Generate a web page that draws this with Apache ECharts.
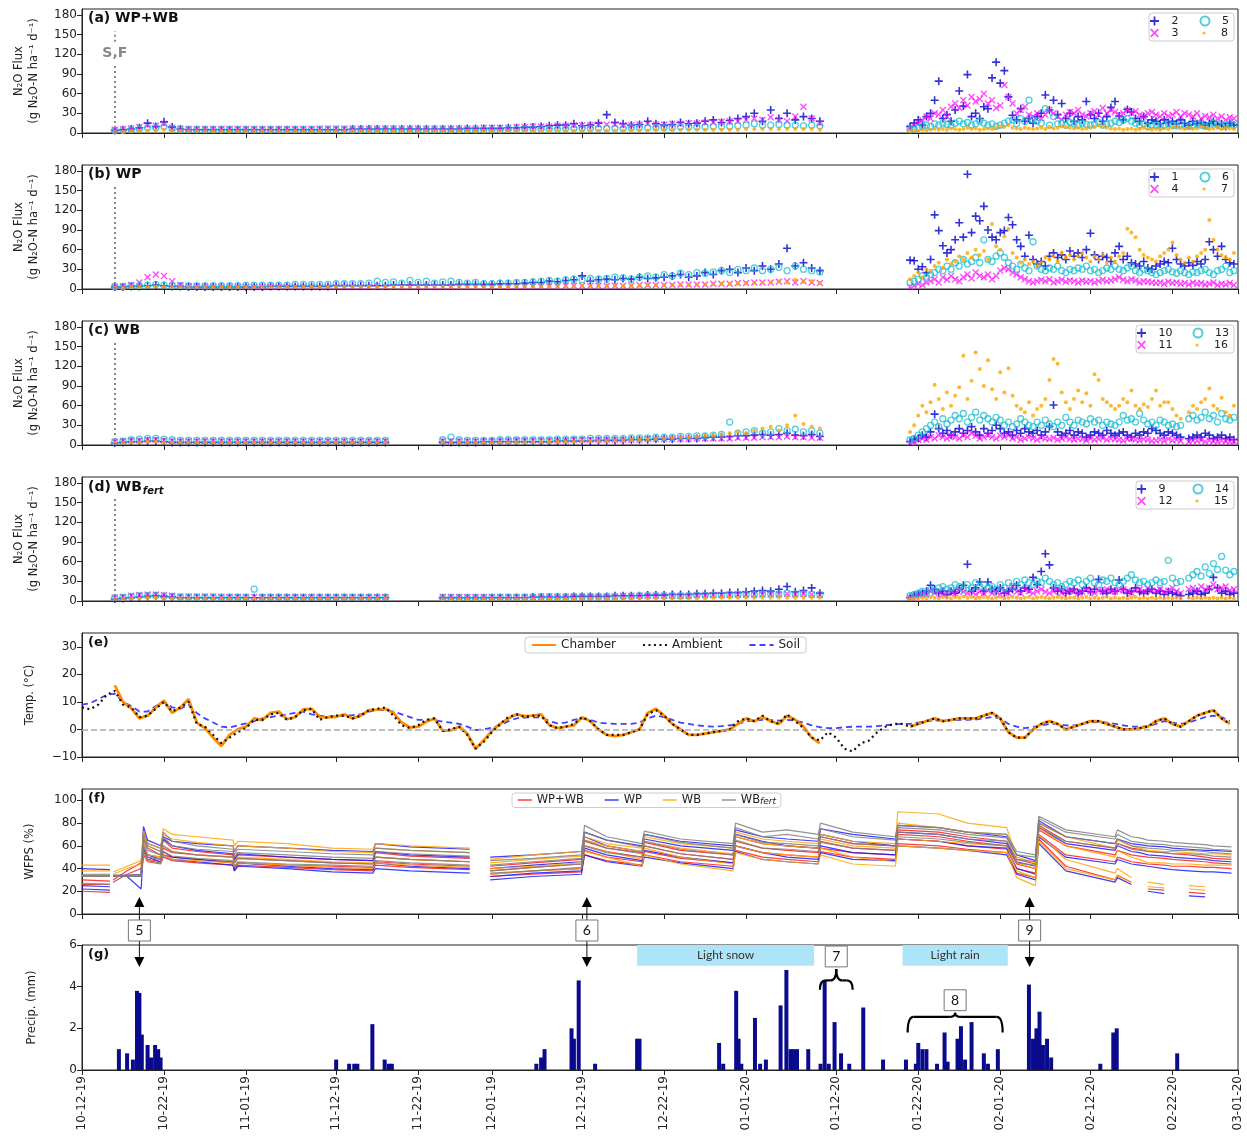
<!DOCTYPE html>
<html><head><meta charset="utf-8">
<script src="https://cdn.jsdelivr.net/npm/echarts@6/dist/echarts.min.js"></script>
<style>html,body{margin:0;padding:0;background:#fff;}#c{width:1247px;height:1139px;}</style>
</head><body><div id="c"></div>
<script>
// ---------------- DATA ----------------
const xTickDates = ['2019-10-12','2019-10-22','2019-11-01','2019-11-12','2019-11-22','2019-12-01','2019-12-12','2019-12-22','2020-01-01','2020-01-12','2020-01-22','2020-02-01','2020-02-12','2020-02-22','2020-03-01'];
const xStart = '2019-10-12', xEnd = '2020-03-01';
const fluxTicks = [0,30,60,90,120,150,180];
const tempTicks = [-10,0,10,20,30];
const wfpsTicks = [0,20,40,60,80,100];
const precipTicks = [0,2,4,6];
const sfDate = '2019-10-16';

// flux: early = daily from fluxEarlyStart, late = every 12 h from fluxLateStart
const fluxEarlyStart = '2019-10-16';
const fluxLateStart = '2020-01-21';

// (a) WP+WB
const ch2Early = [4,5,6,8,15,10,17,9,6,5, 5,5,5,5,5,5,5,5,5,5, 5,5,5,5,5,5,5,5,5,6, 6,6,6,6,6,6,6,6,6,6, 6,6,6,7,7,7,7,7,8,8, 9,9,10,11,12,12,14,11,12,15, 28,16,14,12,13,18,14,12,13,16, 14,15,18,20,16,19,22,25,30,18, 35,22,30,20,25,22,18];
const ch2Late = [10,15,20,12,25,30,50,79,22,28, 18,35,64,41,89,25,30,22,40,37, 84,108,76,95,55,27,20,37,18,22, 15,25,30,58,35,50,28,45,22,30, 18,25,20,48,28,22,30,18,25,39, 48,26,20,36,32,22,18,25,15,20, 18,14,20,16,18,14,20,15,12,18, 14,16,12,15,18,12,14,10,15,12];
const ch3Early = [5,6,7,9,12,11,14,8,7,6, 6,6,6,6,6,6,6,6,6,6, 6,6,6,6,6,7,7,7,7,7, 7,7,7,7,7,7,7,7,7,7, 7,7,7,7,7,8,8,8,8,9, 9,10,10,10,11,11,12,12,12,13, 13,13,12,12,13,14,13,13,14,14, 15,15,16,16,17,18,18,20,22,20, 24,20,18,25,40,22,15];
const ch3Late = [8,12,15,20,25,22,30,28,35,25, 40,45,38,50,42,55,48,52,60,45, 50,38,42,73,55,45,30,35,40,28, 25,30,22,28,35,30,25,20,28,32, 30,35,28,25,30,33,28,38,30,35, 32,28,30,35,30,33,28,25,30,32, 28,25,30,26,28,32,25,30,28,25, 30,22,26,24,28,22,25,20,24,22];
const ch5Early = [4,4,5,6,8,8,10,7,5,5, 5,5,5,5,5,5,5,5,5,5, 5,5,5,5,5,5,5,5,5,5, 5,5,5,5,5,5,5,5,5,5, 5,5,5,5,5,5,5,5,6,6, 6,6,6,6,6,7,7,7,7,7, 7,7,7,8,8,8,8,8,8,9, 9,9,9,10,10,10,11,12,14,12, 12,13,12,12,11,12,11];
const ch5Late = [5,6,8,10,12,10,14,12,15,13, 12,15,18,14,16,12,14,18,15,12, 14,10,12,15,18,20,14,22,18,50, 20,18,15,37,12,25,14,15,12,16, 14,12,15,13,12,14,16,12,14,15, 18,16,20,22,18,15,12,14,10,12, 12,10,12,14,12,11,13,12,10,12, 14,12,10,12,15,13,10,12,14,12];
const ch8Early = [2,2,3,3,4,4,5,3,3,3, 3,3,3,3,3,3,3,3,3,3, 3,3,3,3,3,3,3,3,3,3, 3,3,3,3,3,3,3,3,3,3, 3,3,3,3,3,3,3,3,3,3, 3,3,3,3,4,4,4,4,4,4, 4,4,4,4,4,4,5,5,5,5, 5,5,5,5,5,5,5,6,6,6, 6,6,6,6,6,6,5];
const ch8Late = [3,4,3,5,4,5,6,5,6,5, 7,6,5,6,8,6,7,5,6,7, 6,8,10,9,12,8,7,6,8,7, 6,7,8,6,9,7,8,10,9,8, 7,8,6,7,8,9,12,10,8,7, 6,7,5,6,7,5,6,8,6,5, 6,5,7,6,8,10,7,6,8,6, 7,10,8,6,7,9,6,8,7,6];

// (b) WP
const ch1Early = [3,3,4,4,5,6,5,4,4,3, 3,3,3,3,3,3,3,3,3,4, 4,4,4,4,4,4,4,5,5,5, 5,5,5,5,6,6,6,6,6,6, 6,6,7,7,7,7,7,8,8,8, 9,10,10,12,11,13,14,20,12,14, 15,14,16,15,18,16,17,18,20,22, 18,20,25,22,28,30,25,32,28,35, 30,38,62,35,40,32,28];
const ch1Late = [44,43,30,34,25,45,113,89,66,55, 60,75,101,79,175,86,111,104,126,90, 79,75,86,89,109,98,75,65,50,82, 45,38,42,35,50,55,48,52,45,58, 50,55,48,60,85,52,45,50,48,42, 55,65,45,50,40,38,35,42,32,30, 35,38,42,40,62,45,38,35,40,36, 42,38,45,72,60,50,65,45,40,38];
const ch4Early = [3,4,6,10,18,22,20,12,6,4, 4,3,3,3,3,3,3,3,3,3, 3,3,3,3,3,3,3,3,3,3, 3,3,3,3,3,3,3,3,3,3, 3,3,3,3,3,3,4,4,4,4, 4,4,4,4,4,5,5,5,5,5, 5,5,5,5,6,6,6,6,6,7, 7,7,7,8,8,8,9,9,10,10, 10,11,12,10,12,10,9];
const ch4Late = [3,5,8,6,10,12,15,10,18,14, 20,15,12,18,22,16,25,20,18,22, 15,20,28,32,30,25,22,18,15,12, 10,12,14,12,15,10,12,14,11,13, 12,10,13,11,12,10,12,14,12,13, 15,18,14,12,15,13,10,12,11,10, 9,10,8,11,9,10,8,9,7,10, 8,9,7,8,10,6,8,7,9,6];
const ch6Early = [4,4,5,5,6,7,6,5,5,5, 5,5,5,5,5,5,6,6,6,6, 6,6,7,7,7,7,7,8,8,8, 8,9,12,10,11,9,13,10,12,9, 11,12,10,9,10,8,8,9,9,10, 10,11,12,13,12,14,15,14,16,15, 16,18,17,15,18,20,18,22,20,24, 22,25,24,26,28,25,30,28,32,28, 30,33,28,35,30,28,26];
const ch6Late = [10,12,15,20,18,22,25,30,28,35, 30,40,35,45,38,42,48,40,75,45, 42,50,55,48,40,35,30,38,32,28, 72,35,30,28,32,30,35,28,25,30, 28,32,30,35,28,30,25,28,32,30, 35,30,28,32,35,28,25,30,28,25, 22,25,28,30,26,24,28,25,22,26, 25,28,30,25,22,28,30,35,25,28];
const ch7Early = [2,2,3,3,4,4,4,3,3,3, 3,3,3,3,3,3,3,3,3,3, 3,3,3,3,3,3,3,3,3,3, 3,3,3,3,3,3,3,3,3,3, 3,3,3,3,3,3,3,3,3,4, 4,4,4,4,4,4,4,5,5,5, 5,5,5,5,5,6,6,6,6,6, 6,7,7,7,8,8,8,9,9,10, 10,12,10,14,11,12,9];
const ch7Late = [15,20,25,18,30,28,35,40,32,45, 38,42,50,45,55,48,60,52,58,45, 99,65,60,80,92,55,48,40,45,38, 42,35,40,48,45,50,42,55,48,52, 45,50,55,48,42,50,45,52,40,48, 42,50,55,92,86,79,60,52,48,45, 42,50,55,60,71,52,45,40,48,42, 50,55,60,105,75,60,52,48,45,55];

// (c) WB
const ch10Early = [3,4,5,5,6,6,5,4,4,4, 4,4,4,4,4,4,4,4,4,4, 4,4,4,4,4,4,4,4,4,4, 4,4,4,4,null,null,null,null,null,null, 4,4,4,4,4,5,5,5,5,5, 5,5,5,5,6,6,6,6,6,7, 7,7,7,8,8,8,9,9,9,10, 10,10,11,12,12,13,14,14,15,16, 15,16,18,15,14,16,13];
const ch10Late = [5,8,10,15,12,20,47,25,18,22, 15,20,25,18,22,28,20,15,25,18, 22,30,25,18,20,15,22,18,25,20, 18,22,15,20,28,61,20,15,18,22, 15,20,18,12,15,20,18,15,22,18, 15,18,20,15,12,18,15,20,18,25, 22,18,15,20,18,15,12,null,10,12, 15,12,18,15,10,12,15,10,12,8];
const ch11Early = [5,6,7,7,8,8,7,6,6,6, 6,6,6,6,6,6,6,6,6,6, 6,6,6,6,6,6,6,6,6,6, 6,6,6,6,null,null,null,null,null,null, 6,6,6,6,6,6,6,6,6,7, 7,7,7,7,7,7,8,8,8,8, 8,8,8,8,8,9,9,9,9,9, 9,10,10,10,10,10,11,11,11,12, 12,12,13,12,12,11,11];
const ch11Late = [3,5,8,10,8,12,10,15,12,10, 14,12,10,15,12,18,14,10,12,15, 12,10,14,12,15,10,12,8,10,12, 10,8,12,10,9,11,8,10,12,9, 8,10,9,7,10,8,9,11,8,10, 9,8,7,9,10,8,7,9,8,6, 7,8,6,9,7,8,6,null,5,7, 6,8,5,7,6,5,7,6,5,6];
const ch13Early = [5,6,8,9,10,10,9,8,7,7, 7,7,7,7,7,7,7,7,7,7, 7,7,7,7,7,7,7,7,7,7, 7,7,7,7,null,null,null,null,null,null, 8,12,8,7,7,7,7,8,8,8, 8,8,8,8,9,9,9,9,10,10, 10,10,10,11,11,11,12,12,12,13, 13,14,14,15,16,35,18,20,22,18, 20,25,22,24,20,22,18];
const ch13Late = [8,10,15,20,25,30,35,28,40,32, 38,45,40,48,35,42,50,38,45,40, 35,42,38,30,35,28,32,40,35,30, 28,35,30,38,32,28,35,30,42,35, 30,38,35,32,40,35,38,30,35,32, 30,35,45,38,40,35,48,38,32,35, 30,38,35,30,32,28,30,null,40,45, 38,42,50,40,45,35,48,40,38,42];
const ch16Early = [3,3,4,4,5,5,4,4,4,4, 4,4,4,4,4,4,4,4,4,4, 4,4,4,4,4,4,4,4,4,4, 4,4,4,4,null,null,null,null,null,null, 4,4,4,4,4,4,4,4,4,4, 4,4,5,5,5,5,5,6,6,6, 6,7,7,8,8,9,10,10,11,12, 12,13,14,15,16,18,20,18,22,25, 28,22,30,45,32,28,25];
const ch16Late = [20,30,45,60,50,65,92,70,55,80, 60,75,88,136,70,98,141,116,90,129, 85,70,111,80,117,75,60,55,50,65, 45,55,60,70,99,131,124,80,65,55, 70,83,65,79,60,108,99,70,65,60, 55,60,70,65,83,60,55,62,58,70, 83,60,65,65,55,45,40,null,50,60, 55,65,70,86,60,55,72,50,45,60];

// (d) WBfert
const ch9Early = [3,4,5,6,7,8,7,6,5,5, 5,5,5,5,5,5,5,5,5,5, 5,5,5,5,5,5,5,5,5,5, 5,5,5,5,null,null,null,null,null,null, 5,5,5,5,5,5,5,5,5,5, 5,6,6,6,6,6,7,7,7,7, 7,8,8,8,8,9,9,9,10,10, 10,11,11,12,12,13,13,14,15,16, 15,18,22,14,16,20,12];
const ch9Late = [5,8,10,12,15,24,18,12,15,10, 15,12,18,24,56,15,20,29,15,29, 18,15,20,12,15,18,24,15,20,18, 36,25,45,72,55,20,15,18,12,15, 18,12,15,20,14,18,33,15,12,18, 15,32,18,12,15,20,14,12,15,18, 12,15,10,14,12,10,8,null,10,12, 15,10,12,18,36,20,12,15,10,12];
const ch12Early = [5,6,8,9,10,10,9,8,7,7, 7,7,7,6,6,6,6,6,6,6, 6,6,6,6,6,6,6,6,6,6, 6,6,6,6,null,null,null,null,null,null, 6,6,6,6,6,6,6,6,6,6, 6,6,7,7,7,7,7,7,7,7, 7,7,8,8,8,8,8,8,8,8, 8,9,9,9,9,9,10,10,10,10, 10,10,11,10,11,10,9];
const ch12Late = [5,8,10,12,10,15,12,14,10,12, 15,12,18,14,12,15,10,14,12,16, 12,14,10,15,12,23,14,12,18,15, 12,15,18,14,12,15,18,12,14,16, 15,12,14,18,15,12,16,14,18,15, 14,16,18,15,12,16,18,14,20,16, 15,18,14,16,20,15,12,null,18,20, 15,22,18,20,25,18,20,22,16,18];
const ch14Early = [5,6,7,8,8,8,7,7,6,6, 6,6,6,6,6,6,6,18,6,6, 6,6,6,6,6,6,6,6,6,6, 6,6,6,6,null,null,null,null,null,null, 5,5,5,5,5,5,6,6,6,6, 6,6,6,6,6,6,7,7,7,7, 7,7,7,7,8,8,8,8,8,8, 8,9,9,9,9,10,10,10,10,11, 11,11,12,11,11,10,10];
const ch14Late = [8,10,12,15,12,18,15,20,22,18, 20,25,22,18,25,20,28,22,25,20, 22,18,25,20,28,22,30,25,32,28, 25,30,28,35,30,25,28,22,25,30, 28,32,25,30,35,28,25,32,30,35, 28,25,30,35,40,32,28,30,25,28, 32,28,30,62,35,28,30,null,35,40, 45,38,52,42,57,48,68,47,40,45];
const ch15Early = [3,3,4,4,5,5,4,4,4,4, 4,4,4,4,4,4,4,4,4,4, 4,4,4,4,4,4,4,4,4,4, 4,4,4,4,null,null,null,null,null,null, 3,3,3,3,3,3,3,3,3,3, 3,3,3,3,3,3,3,4,4,4, 4,4,4,4,4,4,4,4,4,4, 4,4,4,5,5,5,5,5,5,5, 5,5,5,5,5,5,5];
const ch15Late = [3,4,3,5,4,6,5,4,6,5, 4,6,5,7,5,6,4,5,6,5, 4,5,6,4,5,6,5,4,5,6, 4,5,6,5,4,5,6,5,4,5, 5,4,5,6,4,5,4,5,6,4, 5,4,5,4,5,6,4,5,4,5, 4,5,4,5,4,5,4,null,5,4, 5,4,5,4,5,4,5,4,5,4];

// (e) temperature, daily from tempStart
const tempStart = '2019-10-12';
const tempChamber = [null,null,null,null,16,10,7.7,4,5,8, 10.5,6,8,11,2.5,0.5,-3,-6,-2,0, 1,4,3.4,6,6.5,3.7,4.5,7.3,7.5,4.5, 4.4,4.6,5.5,4,5,7,7.2,7.5,6,2.5, 0.7,1,2.8,4,-0.5,-0.3,1,-1.5,-7,-3.9, -0.5,2,4,5.5,4.8,5,5.5,1.6,0.5,1, 1.5,4.4,3,0,-2,-2.4,-2,-1,0,6, 7.5,5,2,0,-2,-2,-1.5,-1,-0.5,0, 2,4,3,4.5,3,2,5,3.5,1,-3, -5,null,null,null,null,null,null,null,null,null, null,1,2,3,4,3,3.5,4,4,4, 5,6,4,-1,-3,-3,0,2,3,2, 0,1,2,3,3,2,1,0,0,0.5, 1,3,4,2,1,3,5,6,7,4, 2];
const tempAmbient = [8,7.3,9,12.5,14,9,8,4.5,5,7.5, 10,6.5,8,10,2,1,-2,-5,-3,-1, 0.5,3.5,3.5,5.5,6,3.5,4.5,7,7.5,3.5, 4.5,5,5,4,5,7,7.5,8,5,1.5, 0.5,1.5,3.5,4,-0.5,0,1,-2,-7,-4.5, -1,2,4.5,5.5,4.5,5,5,1.5,0.5,1, 2,4.5,3,0,-2,-2,-2,-1,0,5.5, 7,5,2,0,-2,-2,-1.5,-1,-0.5,0, 3,4,3,5,3,2,5.5,3,0.5,-3, -4,-1,-3,-7,-8,-5,-4,-1,1,2, 2,1,2,3,4,3,3.5,4,4,4, 5,6,4,-1,-3,-3,0,2,3,2, 0,1,2,3,3,2,1,0,0,0.5, 1,3,4,2,1,3,5,6,7,4, 2];
const tempSoil = [9,9.5,11,12.5,13,10,8.5,6.5,6.5,8.5, 10,8,7.5,9,6,4,2.5,1,0.7,1.5, 2.2,3,4,4.5,5,5.5,6,6.5,5.5,5, 4.6,4.8,5,5.2,5.5,6.5,7,7,6.5,5.5, 4.5,3.5,3.4,3.5,2.8,2.5,2,1,-0.2,0, 0.7,1.5,3,4,4.3,4.4,4.4,3,2.2,2.5, 3.5,4,3.5,2.5,2.2,2,2,2,2.5,4, 5,4.5,3.5,2.5,2,1.5,1.2,1,1.2,1.5, 2,3,3.2,3.5,3.4,3.2,3.5,3.2,2.5,1.5, 0.8,0.5,0.5,0.8,1,1,1,1.2,1.5,1.8, 2,2,2.5,3,3.2,3.3,3.3,3.5,3.5,3.6, 4,4.5,4,2,1,0.5,0.8,1.5,2,2, 1.5,1.5,2,2.5,2.8,2.5,2,1.5,1,1, 1.2,2,3,2.5,2,2.5,3.5,4.5,5,4.5, 3];

// (f) WFPS, values at wfpsTimes
const wfpsTimes = ['2019-10-12 00:00','2019-10-15 10:00','2019-10-15 14:00','2019-10-15 19:00','2019-10-17 12:00','2019-10-19 05:00','2019-10-19 12:00','2019-10-20 00:00','2019-10-21 14:00','2019-10-21 22:00','2019-10-23 00:00','2019-10-26 00:00','2019-10-30 10:00','2019-10-30 14:00','2019-10-31 00:00','2019-11-06 00:00','2019-11-11 12:00','2019-11-16 12:00','2019-11-16 19:00','2019-11-21 00:00','2019-11-28 07:00','2019-11-29 12:00','2019-11-30 19:00','2019-12-06 00:00','2019-12-11 22:00','2019-12-12 07:00','2019-12-15 00:00','2019-12-19 07:00','2019-12-19 14:00','2019-12-24 00:00','2019-12-30 10:00','2019-12-30 17:00','2020-01-03 00:00','2020-01-06 00:00','2020-01-09 19:00','2020-01-10 02:00','2020-01-14 00:00','2020-01-19 05:00','2020-01-19 12:00','2020-01-24 12:00','2020-01-28 00:00','2020-02-01 19:00','2020-02-03 00:00','2020-02-05 07:00','2020-02-05 17:00','2020-02-09 00:00','2020-02-15 00:00',
 '2020-02-15 07:00','2020-02-17 00:00','2020-02-18 00:00','2020-02-19 00:00','2020-02-21 00:00','2020-02-22 00:00','2020-02-24 00:00','2020-02-26 00:00','2020-02-27 00:00','2020-02-29 05:00'];
const wfpsRed = [
 [30,29,null,30,38,45,66,58,52,65,58,55,52,47,52,50,48,47,54,51,49,null,42,45,48,64,58,54,63,56,52,68,62,60,58,68,62,60,74,72,68,64,48,44,78,64,58, 62,58,57,55,54,53,52,50,49,48],
 [33,33,null,28,35,40,60,52,50,58,54,52,50,45,49,47,45,44,50,48,46,null,38,41,44,60,55,50,60,53,48,64,58,56,54,64,58,56,70,68,64,60,44,40,74,60,52, 56,52,51,50,49,48,47,46,45,44],
 [20,19,null,33,33,34,56,48,46,52,50,48,46,41,45,43,42,41,46,44,42,null,35,38,40,56,50,46,55,49,45,60,54,52,50,58,54,52,66,64,60,57,40,36,70,52,46, 50,46,45,44,43,42,42,41,41,40],
 [26,26,null,33,33,33,52,46,44,50,47,45,43,38,43,41,39,38,43,41,39,null,33,35,37,52,47,43,52,46,42,56,50,48,46,55,50,48,62,60,57,54,36,32,66,42,30, 34,28,null,22,21,null,19,18,null,17]];
const wfpsBlue = [
 [40,39,null,34,34,35,77,65,60,68,64,62,60,55,60,58,56,55,62,59,57,null,50,52,55,72,65,60,70,64,60,74,68,66,64,75,70,66,78,76,72,68,52,47,82,68,62, 66,62,61,60,59,58,57,56,56,55],
 [33,33,null,33,33,33,73,62,58,66,60,56,53,48,53,50,48,47,55,52,50,null,40,43,46,68,60,55,66,60,56,70,64,60,58,70,64,60,72,70,66,62,46,42,76,62,56, 60,55,54,52,51,50,49,48,47,46],
 [25,24,null,33,33,33,62,52,48,55,50,48,45,40,45,42,40,39,45,42,40,null,33,36,38,58,52,47,56,50,45,60,54,50,48,60,54,52,66,64,60,58,40,35,68,50,44, 48,44,43,42,40,39,38,37,37,36],
 [22,21,null,33,33,22,57,50,46,52,48,46,43,38,42,40,37,36,40,38,36,null,30,33,35,52,46,42,50,45,40,55,48,46,44,54,48,47,60,58,56,52,35,30,62,38,28, 32,26,null,20,18,null,16,15,null,13]];
const wfpsOrange = [
 [43,43,null,37,42,47,73,62,58,75,70,68,65,60,64,62,58,57,62,60,58,null,48,52,55,68,62,58,68,62,58,72,66,64,62,70,64,62,90,88,80,76,50,45,80,68,58, 65,60,58,56,55,55,54,53,53,52],
 [38,38,null,35,40,44,70,60,55,70,66,63,60,56,60,58,55,54,58,56,54,null,45,48,51,65,60,55,64,58,53,68,62,60,58,66,60,58,80,76,72,70,45,40,76,60,50, 56,50,48,45,45,44,44,43,43,43],
 [34,34,null,33,33,34,62,52,50,60,55,52,50,46,50,48,46,45,50,48,46,null,40,42,45,60,55,48,58,50,44,60,54,52,50,58,50,46,66,64,62,60,38,32,70,48,36, 40,32,null,28,26,null,25,24,null,23],
 [33,33,null,33,33,33,55,47,45,52,48,47,45,41,45,43,41,40,45,43,41,null,35,38,40,55,50,42,52,44,38,54,48,46,44,52,44,42,60,58,56,54,32,25,64,40,30, 34,28,null,24,23,null,22,21,null,21]];
const wfpsGray = [
 [35,35,null,34,34,35,70,60,55,72,64,60,57,52,57,55,53,52,58,56,54,null,47,49,52,78,68,62,73,66,62,80,72,74,70,80,72,68,78,76,72,70,55,52,86,74,68, 74,68,67,65,64,63,62,61,60,59],
 [34,34,null,33,33,34,66,56,52,68,60,57,55,50,54,52,50,49,55,53,51,null,43,46,49,72,65,59,70,63,58,76,68,70,66,75,68,65,76,74,70,67,52,50,84,72,66, 70,64,63,62,61,60,59,58,57,56],
 [27,26,null,33,33,33,60,50,48,60,55,52,50,45,49,47,45,44,50,48,46,null,38,41,44,65,58,53,64,57,52,70,63,62,60,68,62,60,72,70,66,64,48,46,80,68,62, 66,60,59,58,57,56,56,55,54,53],
 [33,33,null,33,33,33,55,47,45,55,51,49,47,42,46,44,43,42,47,45,43,null,36,38,41,60,54,50,60,53,48,65,58,57,55,63,58,56,68,66,63,60,45,43,76,64,58, 62,57,56,55,54,53,53,52,51,50]];

// (g) precipitation
const precipDates = ['2019-10-16 12:00','2019-10-17 12:00','2019-10-18 05:00','2019-10-18 17:00','2019-10-19 00:00','2019-10-19 07:00','2019-10-20 00:00','2019-10-20 10:00','2019-10-20 22:00','2019-10-21 07:00','2019-10-21 14:00',
 '2019-11-12 00:00','2019-11-13 14:00','2019-11-14 05:00','2019-11-14 14:00','2019-11-16 10:00','2019-11-17 22:00','2019-11-18 10:00','2019-11-18 19:00',
 '2019-12-06 10:00','2019-12-07 00:00','2019-12-07 10:00','2019-12-10 17:00','2019-12-11 00:00','2019-12-11 14:00','2019-12-13 14:00',
 '2019-12-18 17:00','2019-12-19 00:00',
 '2019-12-28 17:00','2019-12-29 05:00','2019-12-30 19:00','2019-12-31 02:00','2019-12-31 10:00','2020-01-02 02:00','2020-01-02 17:00','2020-01-03 10:00','2020-01-05 05:00','2020-01-05 22:00','2020-01-06 10:00','2020-01-06 19:00','2020-01-07 05:00','2020-01-08 14:00','2020-01-10 02:00','2020-01-10 14:00','2020-01-11 02:00','2020-01-11 19:00','2020-01-12 14:00','2020-01-13 14:00','2020-01-15 07:00','2020-01-17 17:00','2020-01-20 12:00','2020-01-21 17:00','2020-01-22 00:00','2020-01-22 12:00','2020-01-23 00:00','2020-01-24 07:00','2020-01-25 05:00','2020-01-25 14:00','2020-01-26 19:00','2020-01-27 05:00','2020-01-27 17:00','2020-01-28 12:00','2020-01-30 00:00','2020-01-30 12:00','2020-01-31 17:00',
 '2020-02-04 12:00','2020-02-05 00:00','2020-02-05 10:00','2020-02-05 19:00','2020-02-06 05:00','2020-02-06 17:00','2020-02-07 05:00',
 '2020-02-13 05:00','2020-02-14 19:00','2020-02-15 05:00','2020-02-22 14:00'];
const precipValues = [1.0,0.8,0.5,3.8,3.7,1.7,1.2,0.6,1.2,1.0,0.6,
 0.5,0.3,0.3,0.3,2.2,0.5,0.3,0.3,
 0.3,0.6,1.0,2.0,1.5,4.3,0.3,
 1.5,1.5,
 1.3,0.3,3.8,1.5,0.3,2.5,0.3,0.5,3.1,4.8,1.0,1.0,1.0,1.0,0.3,4.3,0.3,2.3,0.8,0.3,3.0,0.5,0.5,0.3,1.3,1.0,1.0,0.3,1.8,0.4,1.5,2.1,0.5,2.3,0.8,0.3,1.0,
 4.1,1.5,2.0,2.8,1.2,1.5,0.6,
 0.3,1.8,2.0,0.8];

// annotations
const eventArrows = [{label:'5', date:'2019-10-19 00:00'},{label:'6', date:'2019-12-12 14:00'},{label:'9', date:'2020-02-04 14:00'}];
const eventBraces = [{label:'7', from:'2020-01-10 00:00', to:'2020-01-14 00:00', boxTop:5.95, boxBottom:4.95, brace:4.3, ends:3.85},
                     {label:'8', from:'2020-01-20 17:00', to:'2020-02-01 07:00', boxTop:3.85, boxBottom:2.85, brace:2.55, ends:1.8}];
const weatherBands = [{label:'Light snow', from:'2019-12-18 17:00', to:'2020-01-09 07:00'},{label:'Light rain', from:'2020-01-20 02:00', to:'2020-02-01 22:00'}];

// ---------------- HELPERS ----------------
function ts(s){const p=s.split(' ');const d=p[0].split('-').map(Number);let h=0,m=0;if(p[1]){const q=p[1].split(':').map(Number);h=q[0];m=q[1];}return Date.UTC(d[0],d[1]-1,d[2],h,m);}
function regular(start,stepH,vals){const t0=ts(start);const out=[];vals.forEach((v,i)=>{if(v!=null)out.push([t0+i*stepH*3600e3,v]);});return out;}
function regularLine(start,stepH,vals){const t0=ts(start);return vals.map((v,i)=>[t0+i*stepH*3600e3,v==null?'-':v]);}
function fmtDate(v){const d=new Date(v);const p=n=>String(n).padStart(2,'0');return p(d.getUTCMonth()+1)+'-'+p(d.getUTCDate())+'-'+p(d.getUTCFullYear()%100);}
const xTicks = xTickDates.map(ts);

const FONT='DejaVu Sans', TXT='#222';
const gridTops=[9,165,321,477,633,789,945];
const gridHs=[124,124,124,124,124,125,125];
const PLUS='path://M0,4H10V6H0Z M4,0H6V10H4Z';
const CROSS='path://M1.4,0L5,3.6L8.6,0L10,1.4L6.4,5L10,8.6L8.6,10L5,6.4L1.4,10L0,8.6L3.6,5L0,1.4Z';
const DOT_ICON='path://M0,0M10,10M5,3.2A1.8,1.8,0,1,1,5,6.8A1.8,1.8,0,1,1,5,3.2Z';
const markerDefs=[
 {symbol:PLUS,symbolSize:8,itemStyle:{color:'#0000cd'}},
 {symbol:CROSS,symbolSize:7,itemStyle:{color:'#ff00ff',opacity:0.7}},
 {symbol:'circle',symbolSize:6,itemStyle:{color:'rgba(0,0,0,0)',borderColor:'#17becf',borderWidth:1.3,opacity:0.75}},
 {symbol:'circle',symbolSize:4,itemStyle:{color:'#ffa500'}}
];
const fluxPanels=[
 {title:'(a) WP+WB', names:['2','3','5','8'], early:[ch2Early,ch3Early,ch5Early,ch8Early], late:[ch2Late,ch3Late,ch5Late,ch8Late], w1:28, lw:100},
 {title:'(b) WP', names:['1','4','6','7'], early:[ch1Early,ch4Early,ch6Early,ch7Early], late:[ch1Late,ch4Late,ch6Late,ch7Late], w1:28, lw:100},
 {title:'(c) WB', names:['10','11','13','16'], early:[ch10Early,ch11Early,ch13Early,ch16Early], late:[ch10Late,ch11Late,ch13Late,ch16Late], w1:34, lw:112},
 {title:'{b|(d) WB}{s|fert}', names:['9','12','14','15'], early:[ch9Early,ch12Early,ch14Early,ch15Early], late:[ch9Late,ch12Late,ch14Late,ch15Late], w1:34, lw:112}
];

// ---------------- OPTION ----------------
const grids=gridTops.map((t,i)=>({left:82,right:9,top:t,height:gridHs[i],show:true,borderColor:'#222',borderWidth:1}));
const xAxes=gridTops.map((t,i)=>({type:'value',gridIndex:i,min:ts(xStart),max:ts(xEnd),
 axisLine:{show:true,onZero:false,lineStyle:{color:'#222',width:1}},
 axisTick:{show:true,length:5,lineStyle:{color:'#222'},customValues:xTicks},
 axisLabel:{show:i===6,customValues:xTicks,rotate:90,formatter:fmtDate,fontSize:12,color:TXT,fontFamily:FONT,margin:6},
 splitLine:{show:false},minorTick:{show:false}}));
const yBase=(i,min,max,ticks,name,gap)=>({type:'value',gridIndex:i,min:min,max:max,
 axisLine:{show:true,onZero:false,lineStyle:{color:'#222'}},
 axisTick:{show:true,length:5,lineStyle:{color:'#222'},customValues:ticks},
 axisLabel:{customValues:ticks,fontSize:12,color:TXT,fontFamily:FONT,margin:5,formatter:v=>String(v).replace('-','\u2212')},
 splitLine:{show:false},name:name,nameLocation:'middle',nameGap:gap,
 nameTextStyle:{fontSize:11.5,color:TXT,fontFamily:FONT,lineHeight:15}});
const fluxName='N\u2082O Flux\n(g N\u2082O-N ha\u207b\u00b9 d\u207b\u00b9)';
const yAxes=[0,1,2,3].map(i=>yBase(i,0,189,fluxTicks,fluxName,40))
 .concat([yBase(4,-10,35,tempTicks,'Temp. (\u00b0C)',44), yBase(5,0,110,wfpsTicks,'WFPS (%)',44), yBase(6,0,6,precipTicks,'Precip. (mm)',42)]);

const series=[]; const legends=[];
fluxPanels.forEach((p,pi)=>{
 p.names.forEach((n,k)=>{
  const m=markerDefs[k];
  const s={type:'scatter',name:n,xAxisIndex:pi,yAxisIndex:pi,symbol:m.symbol,symbolSize:m.symbolSize,
   itemStyle:m.itemStyle,silent:true,data:regular(fluxEarlyStart,24,p.early[k]).concat(regular(fluxLateStart,12,p.late[k]))};
  if(k===0){
   const t=ts(sfDate);
   const segs = pi===0 ? [[{coord:[t,0]},{coord:[t,104]}],[{coord:[t,139]},{coord:[t,155]}]] : [[{coord:[t,0]},{coord:[t,157]}]];
   s.markLine={silent:true,symbol:'none',label:{show:false},lineStyle:{color:'#888',type:[2,3],width:2},data:segs,animation:false};
   if(pi===0){
    s.markPoint={silent:true,symbol:'rect',symbolSize:0,data:[{coord:[t,121]}],
     label:{show:true,position:'inside',formatter:'S,F',color:'#888',fontWeight:'bold',fontSize:14,fontFamily:FONT}};
   }
  }
  series.push(s);
 });
 const order=[p.names[0],p.names[2],p.names[1],p.names[3]];
 legends.push({data:order.map((n,k)=>{const it={name:n}; if(k===3) it.icon=DOT_ICON; return it;}),
  right:13, top:gridTops[pi]+4, width:p.lw, orient:'horizontal', itemGap:0, itemWidth:24, itemHeight:9,
  formatter:n=>(n===p.names[0]||n===p.names[1])?'{w|'+n+'}':'{n|'+n+'}',
  textStyle:{fontSize:11,color:TXT,fontFamily:FONT,lineHeight:12,rich:{w:{width:p.w1,fontSize:11,fontFamily:FONT,color:TXT},n:{fontSize:11,fontFamily:FONT,color:TXT}}},
  backgroundColor:'#fff',borderColor:'#ccc',borderWidth:1,borderRadius:3,padding:[2,5,2,1],selectedMode:false});
});

// temperature
series.push({type:'line',name:'Soil',xAxisIndex:4,yAxisIndex:4,symbol:'none',data:regularLine(tempStart,24,tempSoil),
 lineStyle:{color:'rgba(30,30,255,0.85)',width:1.8,type:[6,4]},itemStyle:{color:'rgba(30,30,255,0.85)'},z:2,
 markLine:{silent:true,symbol:'none',label:{show:false},lineStyle:{color:'#aaa',type:[6,3],width:1.5},data:[{yAxis:0}],animation:false}});
series.push({type:'line',name:'Chamber',xAxisIndex:4,yAxisIndex:4,symbol:'none',data:regularLine(tempStart,24,tempChamber),
 lineStyle:{color:'#ff8c00',width:2.8},itemStyle:{color:'#ff8c00'},z:3});
series.push({type:'line',name:'Ambient',xAxisIndex:4,yAxisIndex:4,symbol:'none',data:regularLine(tempStart,24,tempAmbient),
 lineStyle:{color:'#111',width:2.2,type:[2,3.5]},itemStyle:{color:'#111'},z:4});
legends.push({data:['Chamber','Ambient','Soil'],left:525,top:637,itemWidth:24,itemHeight:10,itemGap:26,
 itemStyle:{opacity:0,borderWidth:0},
 textStyle:{fontSize:12,color:TXT,fontFamily:FONT},backgroundColor:'#fff',borderColor:'#ccc',borderWidth:1,borderRadius:3,padding:[2,6],selectedMode:false});

// WFPS
const wt=wfpsTimes.map(ts);
const wfpsGroups=[['WP+WB',wfpsRed,'#ff1a1a'],['WP',wfpsBlue,'#1a1aff'],['WB',wfpsOrange,'#ffa500'],['WBfert',wfpsGray,'#808080']];
wfpsGroups.forEach(g=>{g[1].forEach(arr=>{series.push({type:'line',name:g[0],xAxisIndex:5,yAxisIndex:5,symbol:'none',
 data:arr.map((v,i)=>[wt[i],v==null?'-':v]),lineStyle:{color:g[2],width:1.2,opacity:0.85},itemStyle:{color:g[2]}});});});
legends.push({data:['WP+WB','WP','WB','WBfert'],left:512,top:793,itemWidth:14,itemHeight:8,itemGap:20,
 itemStyle:{opacity:0,borderWidth:0},lineStyle:{width:1.5},
 formatter:n=>n==='WBfert'?'WB{f|fert}':n,
 textStyle:{fontSize:11.5,color:TXT,fontFamily:FONT,rich:{f:{fontSize:9,fontStyle:'italic',color:TXT,fontFamily:FONT,padding:[4,0,0,0]}}},
 backgroundColor:'#fff',borderColor:'#ccc',borderWidth:1,borderRadius:3,padding:[1,5],selectedMode:false});

// precipitation
series.push({type:'bar',name:'Precip',xAxisIndex:6,yAxisIndex:6,barWidth:4,data:precipDates.map((d,i)=>[ts(d),precipValues[i]]),
 itemStyle:{color:'#0a0a8c'},
 markArea:{silent:true,itemStyle:{color:'#aee4f8'},
  label:{show:true,position:'inside',color:'#333',fontSize:12,fontFamily:'Lato'},
  data:weatherBands.map(b=>[{name:b.label,xAxis:ts(b.from),yAxis:5.0},{xAxis:ts(b.to),yAxis:6}])}});

const titleStyle={fontSize:14,fontWeight:'bold',color:'#111',fontFamily:FONT};
const titles=fluxPanels.map((p,i)=>({text:p.title,left:88,top:gridTops[i]+2,padding:0,
 textStyle:Object.assign({},titleStyle,{rich:{b:{fontSize:14,fontWeight:'bold',color:'#111',fontFamily:FONT},s:{fontSize:10,fontStyle:'italic',fontWeight:'bold',color:'#111',fontFamily:FONT,padding:[7,0,0,1]}}})}))
 .concat(['(e)','(f)','(g)'].map((t,k)=>({text:t,left:88,top:gridTops[4+k]+3,padding:0,textStyle:Object.assign({},titleStyle,{fontSize:13})})));

const chart=echarts.init(document.getElementById('c'),null,{renderer:'canvas'});
chart.setOption({animation:false,backgroundColor:'#fff',textStyle:{fontFamily:FONT},
 title:titles,grid:grids,xAxis:xAxes,yAxis:yAxes,legend:legends,series:series});

// annotations positioned from data coordinates
function buildAnnotations(){
 const g=[];
 const X=t=>chart.convertToPixel({xAxisIndex:6},ts(t));
 const YG=v=>chart.convertToPixel({yAxisIndex:6},v);
 const yF=chart.convertToPixel({yAxisIndex:5},0);
 const yGtop=YG(6);
 const ann={fontFamily:'Lato',fontSize:14,fill:'#111',align:'center',verticalAlign:'middle'};
 eventArrows.forEach(a=>{
  const x=X(a.date); const bt=yF+6, bb=yGtop-4;
  g.push({type:'line',shape:{x1:x,y1:bt,x2:x,y2:yF-8},style:{stroke:'#111',lineWidth:1},z:100});
  g.push({type:'polygon',shape:{points:[[x,yF-17],[x-5,yF-7],[x+5,yF-7]]},style:{fill:'#000'},z:100});
  g.push({type:'line',shape:{x1:x,y1:bb,x2:x,y2:yGtop+13},style:{stroke:'#111',lineWidth:1},z:100});
  g.push({type:'polygon',shape:{points:[[x,yGtop+22],[x-5,yGtop+12],[x+5,yGtop+12]]},style:{fill:'#000'},z:100});
  g.push({type:'rect',shape:{x:x-11,y:bt,width:22,height:bb-bt},style:{fill:'#fff',stroke:'#777',lineWidth:1},z:101});
  g.push({type:'text',x:x,y:(bt+bb)/2,style:Object.assign({text:a.label},ann),z:102});
 });
 eventBraces.forEach(b=>{
  const xl=X(b.from), xr=X(b.to), xm=(xl+xr)/2;
  const yt=YG(b.boxBottom)+2, yh=YG(b.brace), ye=YG(b.ends), r=6;
  const st={stroke:'#000',lineWidth:2.2,fill:null};
  g.push({type:'bezierCurve',shape:{x1:xl,y1:ye,x2:xl+r,y2:yh,cpx1:xl,cpy1:yh},style:st,z:100});
  g.push({type:'line',shape:{x1:xl+r,y1:yh,x2:xm-r,y2:yh},style:st,z:100});
  g.push({type:'bezierCurve',shape:{x1:xm-r,y1:yh,x2:xm,y2:yt,cpx1:xm,cpy1:yh},style:st,z:100});
  g.push({type:'bezierCurve',shape:{x1:xm,y1:yt,x2:xm+r,y2:yh,cpx1:xm,cpy1:yh},style:st,z:100});
  g.push({type:'line',shape:{x1:xm+r,y1:yh,x2:xr-r,y2:yh},style:st,z:100});
  g.push({type:'bezierCurve',shape:{x1:xr-r,y1:yh,x2:xr,y2:ye,cpx1:xr,cpy1:yh},style:st,z:100});
  const bt=YG(b.boxTop), bb=YG(b.boxBottom);
  g.push({type:'rect',shape:{x:xm-11,y:bt,width:22,height:bb-bt},style:{fill:'#fff',stroke:'#777',lineWidth:1},z:101});
  g.push({type:'text',x:xm,y:(bt+bb)/2,style:Object.assign({text:b.label},ann),z:102});
 });
 chart.setOption({graphic:g});
}
buildAnnotations();
</script></body></html>
